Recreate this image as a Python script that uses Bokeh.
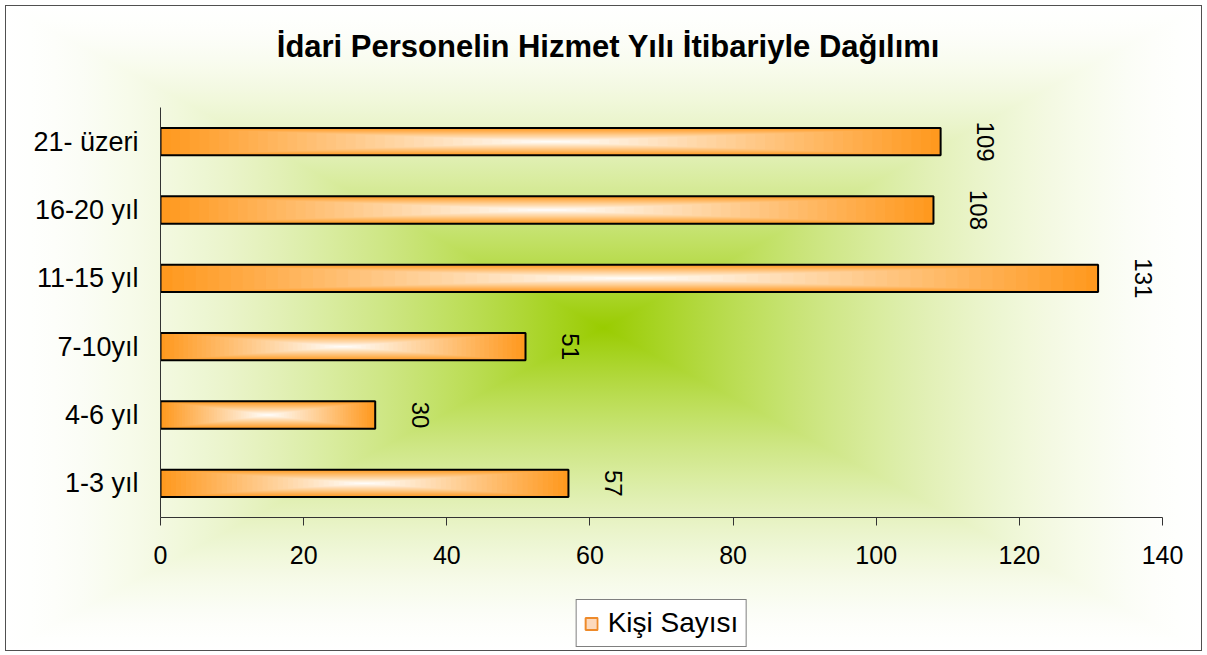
import numpy as np
from bokeh.plotting import figure
from bokeh.layouts import column
from bokeh.models import (ColumnDataSource, FactorRange, Range1d,
                          Legend, LegendItem, Label)
from bokeh.core.properties import value
from bokeh.embed import file_html
from bokeh.resources import INLINE

# ---------------- data ----------------
categories = ["1-3 yıl", "4-6 yıl", "7-10yıl", "11-15 yıl", "16-20 yıl", "21- üzeri"]
counts = [57, 30, 51, 131, 108, 109]
x_ticks = [0, 20, 40, 60, 80, 100, 120, 140]
title_text = "İdari Personelin Hizmet Yılı İtibariyle Dağılımı"
series_name = "Kişi Sayısı"

FONT = "Liberation Sans"
W = 1197
H_TOP, H_MAIN, H_LEG = 82, 494, 70


def mix(c_edge, c_center, w):
    """w = 1 -> edge colour, w = 0 -> centre colour"""
    return tuple(int(round(c_center[i] + (c_edge[i] - c_center[i]) * w)) for i in range(3))


def hexc(c):
    return "#%02x%02x%02x" % c


# ---------------- background (rectangular "from centre" gradient via CSS) ----------------
GREEN = (153, 204, 0)
WHITE = (255, 255, 255)
n = 24
half = []
for i in range(n + 1):
    t = i / n
    w = 1 - (1 - t) ** 1.6
    half.append((t, mix(WHITE, GREEN, w)))
stops_l = [(50.0 * (1 - t), c) for t, c in half]
stops_r = [(50.0 + 50.0 * t, c) for t, c in half]
stops = sorted(stops_l + stops_r[1:], key=lambda s: s[0])
stop_str = ", ".join("rgb(%d,%d,%d) %.2f%%" % (c[0], c[1], c[2], pct) for pct, c in stops)
hgrad = "linear-gradient(to right, %s)" % stop_str
vgrad = "linear-gradient(to bottom, %s)" % stop_str


def clear(fig):
    fig.background_fill_alpha = 0
    fig.border_fill_alpha = 0
    fig.outline_line_color = None


# ---------------- title strip ----------------
p0 = figure(width=W, height=H_TOP, x_range=Range1d(0, 1), y_range=Range1d(0, 1),
            x_axis_type=None, y_axis_type=None, output_backend="svg",
            toolbar_location=None, min_border=0)
clear(p0)
# the strip's frame is aligned with the main chart's frame in the column
p0.add_layout(Label(x=0.447, y=0.5, text=title_text, text_align="center",
                    text_baseline="middle", text_font=FONT, text_font_size="31px",
                    text_font_style="bold", text_color="black"))

# ---------------- main chart ----------------
p = figure(width=W, height=H_MAIN,
           y_range=FactorRange(*categories, range_padding=0),
           x_range=Range1d(0, 140),
           output_backend="svg", toolbar_location=None,
           min_border_left=155, min_border_right=40,
           min_border_top=20, min_border_bottom=64)
clear(p)
p.xgrid.grid_line_color = None
p.ygrid.grid_line_color = None

ORANGE = (255, 153, 31)
BAR_H = 0.4
steps = 40
xs, ys, ws, hs, cs = [], [], [], [], []
for k in range(steps):
    t = 1.0 - k / steps
    col = hexc(mix(ORANGE, WHITE, t))
    for cat, v in zip(categories, counts):
        xs.append(v / 2.0)
        ys.append(cat)
        ws.append(v * t)
        hs.append(BAR_H * t)
        cs.append(col)
grad_src = ColumnDataSource(dict(x=xs, y=ys, w=ws, h=hs, c=cs))
p.rect(x="x", y="y", width="w", height="h", fill_color="c", line_color=None, source=grad_src)

bar_src = ColumnDataSource(dict(x=[v / 2.0 for v in counts], y=categories, w=counts,
                                lab=[str(v) for v in counts], v=counts))
p.rect(x="x", y="y", width="w", height=BAR_H, fill_color=None, line_color="black",
       line_width=2, source=bar_src)

p.text(x="v", y="y", text="lab", source=bar_src, angle=-np.pi / 2, x_offset=45,
       text_align="center", text_baseline="middle", text_font=value(FONT),
       text_font_size="24px", text_color="black")

xa = p.xaxis[0]
xa.ticker = x_ticks
xa.major_tick_out = 8
xa.major_tick_in = 0
xa.minor_tick_line_color = None
xa.axis_line_color = "#333333"
xa.major_tick_line_color = "#333333"
xa.major_label_text_font = FONT
xa.major_label_text_font_size = "25px"
xa.major_label_text_color = "black"
xa.major_label_standoff = 20

ya = p.yaxis[0]
ya.major_tick_out = 0
ya.major_tick_in = 0
ya.minor_tick_line_color = None
ya.axis_line_color = "#333333"
ya.major_label_text_font = FONT
ya.major_label_text_font_size = "27px"
ya.major_label_text_color = "black"
ya.major_label_standoff = 22

# ---------------- legend strip ----------------
p2 = figure(width=W, height=H_LEG, x_range=Range1d(0, 1), y_range=Range1d(0, 1),
            x_axis_type=None, y_axis_type=None, output_backend="svg",
            toolbar_location=None, min_border_left=155, min_border_right=40,
            min_border_top=14, min_border_bottom=0)
clear(p2)
swatch = p2.rect(x=[-5], y=[-5], width=[0.01], height=[0.01], fill_color="#fcd9bd",
                 line_color="#ee8a2a", line_width=2)
legend = Legend(items=[LegendItem(label=series_name, renderers=[swatch])],
                location="center", orientation="horizontal",
                border_line_color="black", border_line_width=1,
                background_fill_color="white", background_fill_alpha=1,
                label_text_font=FONT, label_text_font_size="28px",
                label_text_color="black",
                glyph_width=15, glyph_height=15, label_standoff=9,
                padding=7, margin=0)
p2.add_layout(legend)

layout = column(p0, p, p2, spacing=0,
                styles={"background-image": "%s, %s" % (hgrad, vgrad),
                        "background-blend-mode": "lighten",
                        "outline": "1px solid #505050",
                        "outline-offset": "-1px",
                        "position": "relative", "left": "5px", "top": "5px"})

open("out.html", "w").write(file_html(layout, INLINE))
